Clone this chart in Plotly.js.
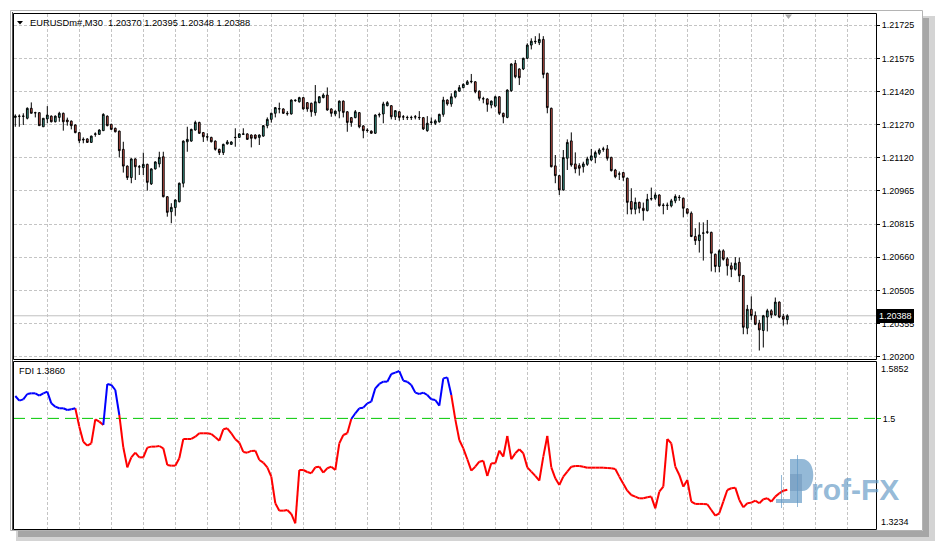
<!DOCTYPE html>
<html><head><meta charset="utf-8">
<script src="https://cdn.plot.ly/plotly-3.0.1.min.js"></script>
<style>html,body{margin:0;padding:0;background:#fff;}#chart{width:935px;height:541px;}</style>
</head><body><div id="chart"></div>
<script>
// ---------------- data ----------------
const symbol = 'EURUSDm#,M30';
const open = [1.21301,1.21307,1.21306,1.21297,1.21343,1.21323,1.21323,1.21258,1.21294,1.21307,
1.21281,1.21301,1.21320,1.21289,1.21284,1.21266,1.21231,1.21197,1.21202,1.21186,
1.21223,1.21223,1.21240,1.21307,1.21269,1.21251,1.21238,1.21154,1.21077,1.21024,
1.21110,1.21074,1.21070,1.21085,1.20995,1.21064,1.21087,1.21120,1.20936,1.20867,
1.20886,1.20913,1.20998,1.21189,1.21192,1.21243,1.21278,1.21231,1.21212,1.21209,
1.21192,1.21154,1.21139,1.21179,1.21177,1.21208,1.21209,1.21223,1.21225,1.21220,
1.21220,1.21209,1.21215,1.21263,1.21292,1.21320,1.21340,1.21340,1.21320,1.21317,
1.21378,1.21373,1.21392,1.21369,1.21366,1.21323,1.21369,1.21392,1.21404,1.21340,
1.21317,1.21330,1.21376,1.21327,1.21300,1.21300,1.21323,1.21262,1.21243,1.21238,
1.21228,1.21312,1.21317,1.21355,1.21355,1.21304,1.21327,1.21304,1.21300,1.21300,
1.21304,1.21301,1.21300,1.21240,1.21278,1.21274,1.21281,1.21315,1.21381,1.21363,
1.21396,1.21422,1.21438,1.21453,1.21465,1.21465,1.21422,1.21386,1.21386,1.21358,
1.21353,1.21396,1.21320,1.21301,1.21424,1.21550,1.21524,1.21524,1.21573,1.21634,
1.21649,1.21645,1.21660,1.21504,1.21343,1.21078,1.21033,1.20967,1.21113,1.21193,
1.21087,1.21079,1.21074,1.21085,1.21105,1.21117,1.21136,1.21154,1.21156,1.21117,
1.21059,1.21041,1.21047,1.21021,1.20914,1.20878,1.20910,1.20883,1.20872,1.20926,
1.20929,1.20944,1.20895,1.20895,1.20894,1.20917,1.20932,1.20929,1.20880,1.20860,
1.20753,1.20734,1.20768,1.20772,1.20772,1.20671,1.20615,1.20687,1.20650,1.20618,
1.20602,1.20634,1.20573,1.20331,1.20418,1.20389,1.20354,1.20320,1.20382,1.20411,
1.20392,1.20451,1.20385,1.20370];
const high = [1.21315,1.21315,1.21320,1.21347,1.21370,1.21327,1.21323,1.21297,1.21353,1.21310,
1.21310,1.21327,1.21323,1.21300,1.21287,1.21269,1.21231,1.21209,1.21205,1.21217,
1.21232,1.21246,1.21320,1.21310,1.21272,1.21254,1.21240,1.21189,1.21080,1.21113,
1.21113,1.21082,1.21139,1.21088,1.21067,1.21099,1.21143,1.21143,1.20939,1.20906,
1.20924,1.21001,1.21195,1.21258,1.21249,1.21286,1.21281,1.21234,1.21228,1.21212,
1.21195,1.21157,1.21180,1.21197,1.21191,1.21251,1.21228,1.21251,1.21228,1.21223,
1.21223,1.21223,1.21266,1.21301,1.21323,1.21349,1.21369,1.21343,1.21330,1.21384,
1.21384,1.21396,1.21395,1.21372,1.21369,1.21450,1.21399,1.21412,1.21439,1.21343,
1.21333,1.21379,1.21379,1.21330,1.21303,1.21335,1.21326,1.21265,1.21251,1.21241,
1.21315,1.21323,1.21373,1.21376,1.21358,1.21335,1.21330,1.21312,1.21309,1.21309,
1.21312,1.21330,1.21303,1.21307,1.21301,1.21292,1.21318,1.21396,1.21384,1.21412,
1.21425,1.21450,1.21458,1.21473,1.21501,1.21468,1.21425,1.21396,1.21389,1.21379,
1.21401,1.21399,1.21323,1.21430,1.21550,1.21565,1.21527,1.21576,1.21642,1.21665,
1.21675,1.21688,1.21675,1.21507,1.21346,1.21128,1.21036,1.21151,1.21200,1.21232,
1.21140,1.21090,1.21097,1.21120,1.21156,1.21148,1.21159,1.21166,1.21174,1.21120,
1.21064,1.21052,1.21050,1.21024,1.20975,1.20932,1.20913,1.20909,1.20949,1.20978,
1.20956,1.20947,1.20906,1.20909,1.20926,1.20947,1.20944,1.20932,1.20883,1.20868,
1.20791,1.20818,1.20818,1.20829,1.20775,1.20674,1.20694,1.20694,1.20658,1.20633,
1.20658,1.20656,1.20576,1.20438,1.20477,1.20408,1.20369,1.20392,1.20420,1.20418,
1.20472,1.20454,1.20397,1.20395];
const low = [1.21258,1.21258,1.21266,1.21292,1.21320,1.21301,1.21263,1.21258,1.21274,1.21278,
1.21278,1.21281,1.21240,1.21263,1.21246,1.21228,1.21182,1.21182,1.21184,1.21184,
1.21212,1.21220,1.21240,1.21260,1.21243,1.21232,1.21117,1.21047,1.21013,1.20998,
1.21013,1.21036,1.21036,1.20964,1.20990,1.21061,1.21071,1.20933,1.20844,1.20814,
1.20848,1.20910,1.20979,1.21143,1.21189,1.21240,1.21225,1.21188,1.21194,1.21186,
1.21148,1.21128,1.21128,1.21176,1.21174,1.21166,1.21206,1.21220,1.21197,1.21163,
1.21200,1.21174,1.21212,1.21251,1.21277,1.21301,1.21320,1.21317,1.21309,1.21314,
1.21373,1.21369,1.21337,1.21327,1.21304,1.21309,1.21366,1.21389,1.21332,1.21304,
1.21307,1.21297,1.21301,1.21235,1.21258,1.21297,1.21251,1.21205,1.21231,1.21226,
1.21225,1.21301,1.21274,1.21352,1.21292,1.21289,1.21286,1.21289,1.21289,1.21289,
1.21292,1.21289,1.21243,1.21235,1.21266,1.21266,1.21277,1.21304,1.21355,1.21350,
1.21389,1.21419,1.21435,1.21450,1.21458,1.21412,1.21378,1.21366,1.21327,1.21343,
1.21347,1.21312,1.21274,1.21297,1.21419,1.21481,1.21450,1.21519,1.21570,1.21614,
1.21639,1.21634,1.21481,1.21320,1.21071,1.20998,1.20944,1.20964,1.21059,1.21074,
1.21044,1.21033,1.21047,1.21078,1.21100,1.21090,1.21128,1.21143,1.21102,1.21052,
1.21021,1.21013,1.21009,1.20855,1.20855,1.20855,1.20860,1.20826,1.20868,1.20918,
1.20921,1.20890,1.20855,1.20875,1.20887,1.20906,1.20917,1.20841,1.20855,1.20750,
1.20714,1.20679,1.20642,1.20765,1.20592,1.20588,1.20588,1.20642,1.20573,1.20566,
1.20596,1.20543,1.20303,1.20303,1.20369,1.20345,1.20228,1.20242,1.20316,1.20377,
1.20388,1.20377,1.20343,1.20348];
const close = [1.21307,1.21306,1.21307,1.21343,1.21320,1.21322,1.21263,1.21297,1.21312,1.21281,
1.21307,1.21320,1.21281,1.21281,1.21263,1.21231,1.21194,1.21200,1.21186,1.21215,
1.21225,1.21243,1.21315,1.21263,1.21246,1.21235,1.21148,1.21077,1.21024,1.21110,
1.21074,1.21073,1.21085,1.21002,1.21064,1.21096,1.21117,1.20936,1.20864,1.20887,
1.20921,1.20998,1.21192,1.21200,1.21246,1.21278,1.21228,1.21212,1.21211,1.21189,
1.21154,1.21139,1.21177,1.21188,1.21188,1.21209,1.21225,1.21225,1.21200,1.21205,
1.21205,1.21220,1.21263,1.21292,1.21320,1.21346,1.21341,1.21320,1.21318,1.21381,
1.21380,1.21392,1.21340,1.21340,1.21327,1.21373,1.21396,1.21404,1.21335,1.21320,
1.21330,1.21376,1.21324,1.21278,1.21277,1.21327,1.21258,1.21240,1.21241,1.21228,
1.21312,1.21314,1.21363,1.21369,1.21304,1.21332,1.21301,1.21303,1.21301,1.21301,
1.21303,1.21300,1.21248,1.21274,1.21280,1.21285,1.21315,1.21381,1.21363,1.21396,
1.21422,1.21438,1.21453,1.21465,1.21467,1.21419,1.21389,1.21387,1.21361,1.21376,
1.21396,1.21320,1.21304,1.21427,1.21547,1.21488,1.21484,1.21573,1.21634,1.21652,
1.21651,1.21660,1.21499,1.21346,1.21074,1.21033,1.20967,1.21116,1.21186,1.21082,
1.21064,1.21067,1.21087,1.21110,1.21124,1.21139,1.21151,1.21156,1.21113,1.21056,
1.21028,1.21040,1.21025,1.20910,1.20878,1.20910,1.20883,1.20872,1.20924,1.20927,
1.20944,1.20895,1.20897,1.20897,1.20917,1.20937,1.20933,1.20883,1.20860,1.20753,
1.20734,1.20760,1.20769,1.20774,1.20676,1.20615,1.20687,1.20648,1.20618,1.20602,
1.20630,1.20572,1.20335,1.20418,1.20389,1.20349,1.20323,1.20388,1.20411,1.20392,
1.20451,1.20382,1.20372,1.20388];
const fdiName = 'FDI';
const fdi = [1.5357,1.5283,1.5304,1.5389,1.5400,1.5400,1.5363,1.5400,1.5427,1.5240,
1.5187,1.5161,1.5161,1.5134,1.5145,1.5161,1.4868,1.4628,1.4565,1.4602,
1.4985,1.4948,1.4895,1.5549,1.5533,1.5453,1.5054,1.4538,1.4218,1.4378,
1.4453,1.4378,1.4378,1.4533,1.4549,1.4549,1.4559,1.4522,1.4256,1.4245,
1.4245,1.4363,1.4671,1.4671,1.4671,1.4708,1.4762,1.4762,1.4762,1.4751,
1.4698,1.4644,1.4825,1.4841,1.4762,1.4666,1.4613,1.4464,1.4453,1.4480,
1.4485,1.4336,1.4293,1.4218,1.4070,1.3645,1.3527,1.3527,1.3538,1.3474,
1.3325,1.4176,1.4176,1.4144,1.4123,1.4218,1.4229,1.4134,1.4203,1.4229,
1.4176,1.4602,1.4735,1.4762,1.4990,1.5081,1.5161,1.5171,1.5240,1.5267,
1.5480,1.5549,1.5586,1.5586,1.5708,1.5730,1.5756,1.5602,1.5586,1.5533,
1.5411,1.5389,1.5411,1.5373,1.5304,1.5293,1.5203,1.5639,1.5655,1.5373,
1.4985,1.4655,1.4522,1.4347,1.4166,1.4229,1.4309,1.4325,1.4081,1.4283,
1.4283,1.4485,1.4389,1.4719,1.4347,1.4442,1.4506,1.4442,1.4218,1.4150,
1.4081,1.4006,1.4389,1.4719,1.4218,1.4043,1.3937,1.4070,1.4150,1.4229,
1.4240,1.4240,1.4229,1.4213,1.4213,1.4213,1.4213,1.4213,1.4208,1.4203,
1.4192,1.4070,1.3958,1.3846,1.3777,1.3751,1.3724,1.3724,1.3740,1.3751,
1.3564,1.3830,1.3910,1.4671,1.4602,1.4229,1.4097,1.3910,1.4017,1.3671,
1.3634,1.3634,1.3634,1.3629,1.3538,1.3448,1.3485,1.3671,1.3857,1.3884,
1.3894,1.3698,1.3580,1.3645,1.3655,1.3687,1.3645,1.3708,1.3724,1.3671,
1.3751,1.3804,1.3846,1.3860];
const fdiLevel = 1.5;
const fdiLevelText = ['1.5'];
const fdiScaleText = ['1.5852', '1.3234'];
const priceTickText = ['1.21725','1.21575','1.21420','1.21270','1.21120','1.20965',
                       '1.20815','1.20660','1.20505','1.20355','1.20200'];
const watermarkText = 'rof-FX';

// ---------------- build ----------------
const W = 935, H = 541;
const px = x => x / W;
const py = y => 1 - y / H;
const n = close.length;
const bars = close.map((_, i) => i);

const pTop = parseFloat(priceTickText[0]);
const pBot = parseFloat(priceTickText[priceTickText.length - 1]);
const priceTickVals = priceTickText.map((_, k) => pTop - k * (pTop - pBot) / (priceTickText.length - 1));
const timeGrid = [];
for (let i = 8; i <= 208; i += 8) timeGrid.push(i);

const blueX = [], blueY = [], redX = [], redY = [];
for (let i = 0; i < n - 1; i++) {
  const up = fdi[i + 1] > fdiLevel;
  const X = up ? blueX : redX, Y = up ? blueY : redY;
  X.push(bars[i], bars[i + 1], null);
  Y.push(fdi[i], fdi[i + 1], null);
}

const bullCol = '#3da493', bearCol = '#da5a4f';
const gridCol = '#c4c4c4';
const traces = [
  { type: 'candlestick', x: bars, open: open, high: high, low: low, close: close,
    xaxis: 'x', yaxis: 'y', whiskerwidth: 0, hoverinfo: 'skip', showlegend: false,
    increasing: { line: { color: '#000', width: 1 }, fillcolor: bullCol },
    decreasing: { line: { color: '#000', width: 1 }, fillcolor: bearCol } },
  { type: 'scatter', mode: 'lines', x: redX, y: redY, xaxis: 'x2', yaxis: 'y2',
    line: { color: '#ff0000', width: 2 }, connectgaps: false, hoverinfo: 'skip', showlegend: false },
  { type: 'scatter', mode: 'lines', x: blueX, y: blueY, xaxis: 'x2', yaxis: 'y2',
    line: { color: '#0000ff', width: 2 }, connectgaps: false, hoverinfo: 'skip', showlegend: false }
];

const xDom = [px(14), px(876)];
const xRange = [-0.325, 215.175];
const xCommon = { domain: xDom, range: xRange, tickvals: timeGrid, showticklabels: false, ticks: '',
  showgrid: true, gridcolor: gridCol, griddash: '3px,2px', gridwidth: 1, zeroline: false,
  showline: false, fixedrange: true, rangeslider: { visible: false } };

const wm = 'rgba(98,152,196,0.68)';
const shapes = [
  // drop shadow of the window
  { type: 'rect', xref: 'paper', yref: 'paper', x0: px(923), x1: px(935), y0: py(16), y1: py(541), fillcolor: '#d4d4d4', line: { width: 0 }, layer: 'below' },
  { type: 'rect', xref: 'paper', yref: 'paper', x0: px(16), x1: px(935), y0: py(531), y1: py(541), fillcolor: '#d4d4d4', line: { width: 0 }, layer: 'below' },
  { type: 'rect', xref: 'paper', yref: 'paper', x0: px(923), x1: px(929), y0: py(18), y1: py(537), fillcolor: '#a6a6a6', line: { width: 0 }, layer: 'below' },
  { type: 'rect', xref: 'paper', yref: 'paper', x0: px(18), x1: px(929), y0: py(531), y1: py(537), fillcolor: '#a6a6a6', line: { width: 0 }, layer: 'below' },
  // window frame
  { type: 'rect', xref: 'paper', yref: 'paper', x0: px(10.5), x1: px(922.5), y0: py(10.5), y1: py(530.5), line: { color: '#b4b4b4', width: 1 } },
  { type: 'line', xref: 'paper', yref: 'paper', x0: px(12.5), x1: px(12.5), y0: py(12), y1: py(530), line: { color: '#505050', width: 1 } },
  // panel frames
  { type: 'rect', xref: 'paper', yref: 'paper', x0: px(13.5), x1: px(876.5), y0: py(13.5), y1: py(359.5), line: { color: '#000', width: 1 } },
  { type: 'rect', xref: 'paper', yref: 'paper', x0: px(13.5), x1: px(876.5), y0: py(361.5), y1: py(529.5), line: { color: '#000', width: 1 } },
  // current price line
  { type: 'line', xref: 'x domain', yref: 'y', x0: 0, x1: 1, y0: close[n - 1], y1: close[n - 1], line: { color: '#c0c0c0', width: 1 }, layer: 'below' },
  // FDI level
  { type: 'line', xref: 'x2 domain', yref: 'y2', x0: 0, x1: 1, y0: fdiLevel, y1: fdiLevel, line: { color: '#00c800', width: 1, dash: '11px,6px' }, layer: 'below' },
  // header triangle
  { type: 'path', xref: 'paper', yref: 'paper', path: `M ${px(17)},${py(21)} L ${px(23)},${py(21)} L ${px(20)},${py(24.5)} Z`, fillcolor: '#000', line: { width: 0 } },
  // chart shift marker
  { type: 'path', xref: 'paper', yref: 'paper', path: `M ${px(785)},${py(14.5)} L ${px(792)},${py(14.5)} L ${px(788.5)},${py(19)} Z`, fillcolor: '#a8a8a8', line: { width: 0 } },
  // watermark logo
  { type: 'rect', xref: 'paper', yref: 'paper', x0: px(790), x1: px(802), y0: py(459), y1: py(503), fillcolor: wm, line: { width: 0 } },
  { type: 'path', xref: 'paper', yref: 'paper', path: `M ${px(802)},${py(459)} C ${px(817)},${py(459)} ${px(817)},${py(491)} ${px(802)},${py(491)} Z`, fillcolor: wm, line: { width: 0 } },
  { type: 'rect', xref: 'paper', yref: 'paper', x0: px(790), x1: px(802), y0: py(474), y1: py(491), fillcolor: 'rgba(90,130,170,0.35)', line: { width: 0 } },
  { type: 'line', xref: 'paper', yref: 'paper', x0: px(797.5), x1: px(797.5), y0: py(455), y1: py(507), line: { color: wm, width: 1 } },
  { type: 'line', xref: 'paper', yref: 'paper', x0: px(781.5), x1: px(781.5), y0: py(475), y1: py(508), line: { color: wm, width: 1 } },
  { type: 'rect', xref: 'paper', yref: 'paper', x0: px(776), x1: px(790), y0: py(499), y1: py(503), fillcolor: wm, line: { width: 0 } }
];

const lastOHLC = [open, high, low, close].map(a => a[n - 1].toFixed(5)).join(' ');
const annotations = [
  { xref: 'paper', yref: 'paper', x: px(28), y: py(23.5), xanchor: 'left', yanchor: 'middle', showarrow: false,
    text: symbol + '\u00a0\u00a0' + lastOHLC, font: { size: 9.3, color: '#000' } },
  { xref: 'paper', yref: 'paper', x: px(17), y: py(370.5), xanchor: 'left', yanchor: 'middle', showarrow: false,
    text: fdiName + ' ' + fdi[n - 1].toFixed(4), font: { size: 9.3, color: '#000' } },
  { xref: 'x domain', yref: 'y', x: 1, y: close[n - 1], xanchor: 'left', yanchor: 'middle', xshift: 1, showarrow: false,
    text: close[n - 1].toFixed(5), bgcolor: '#000', bordercolor: '#000', borderwidth: 1, borderpad: 1,
    font: { size: 9, color: '#fff' } },
  { xref: 'x2 domain', yref: 'y2 domain', x: 1, y: 1, xanchor: 'left', yanchor: 'top', xshift: 3, yshift: 0, showarrow: false,
    text: fdiScaleText[0], font: { size: 9, color: '#000' } },
  { xref: 'x2 domain', yref: 'y2 domain', x: 1, y: 0, xanchor: 'left', yanchor: 'bottom', xshift: 3, yshift: 0, showarrow: false,
    text: fdiScaleText[1], font: { size: 9, color: '#000' } },
  { xref: 'paper', yref: 'paper', x: px(809), y: py(489), xanchor: 'left', yanchor: 'middle', showarrow: false,
    text: '<b>' + watermarkText + '</b>', font: { family: 'Liberation Sans, Arial, sans-serif', size: 30, color: wm } }
];

const layout = {
  width: W, height: H, margin: { l: 0, r: 0, t: 0, b: 0 },
  paper_bgcolor: '#fff', plot_bgcolor: '#fff', showlegend: false, hovermode: false,
  boxgap: 0.38,
  font: { family: 'Liberation Sans, Arial, sans-serif', size: 9, color: '#000' },
  xaxis: Object.assign({}, xCommon, { anchor: 'y' }),
  xaxis2: Object.assign({}, xCommon, { anchor: 'y2', matches: 'x' }),
  yaxis: { domain: [py(359), py(14)], range: [1.20189, 1.21777], side: 'right', anchor: 'x',
    tickvals: priceTickVals, ticktext: priceTickText, ticks: 'outside', ticklen: 3, tickwidth: 1, tickcolor: '#000',
    showgrid: true, gridcolor: gridCol, griddash: '3px,2px', gridwidth: 1, zeroline: false, showline: false,
    fixedrange: true, tickfont: { size: 9, color: '#000' } },
  yaxis2: { domain: [py(529), py(362)], range: [1.3234, 1.5900], side: 'right', anchor: 'x2',
    tickvals: [fdiLevel], ticktext: fdiLevelText, ticks: 'outside', ticklen: 4, tickwidth: 1, tickcolor: '#00c800',
    showgrid: false, zeroline: false, showline: false, fixedrange: true, tickfont: { size: 9, color: '#000' } },
  shapes: shapes,
  annotations: annotations
};

Plotly.newPlot('chart', traces, layout, { staticPlot: true, displayModeBar: false });
</script>
</body></html>
